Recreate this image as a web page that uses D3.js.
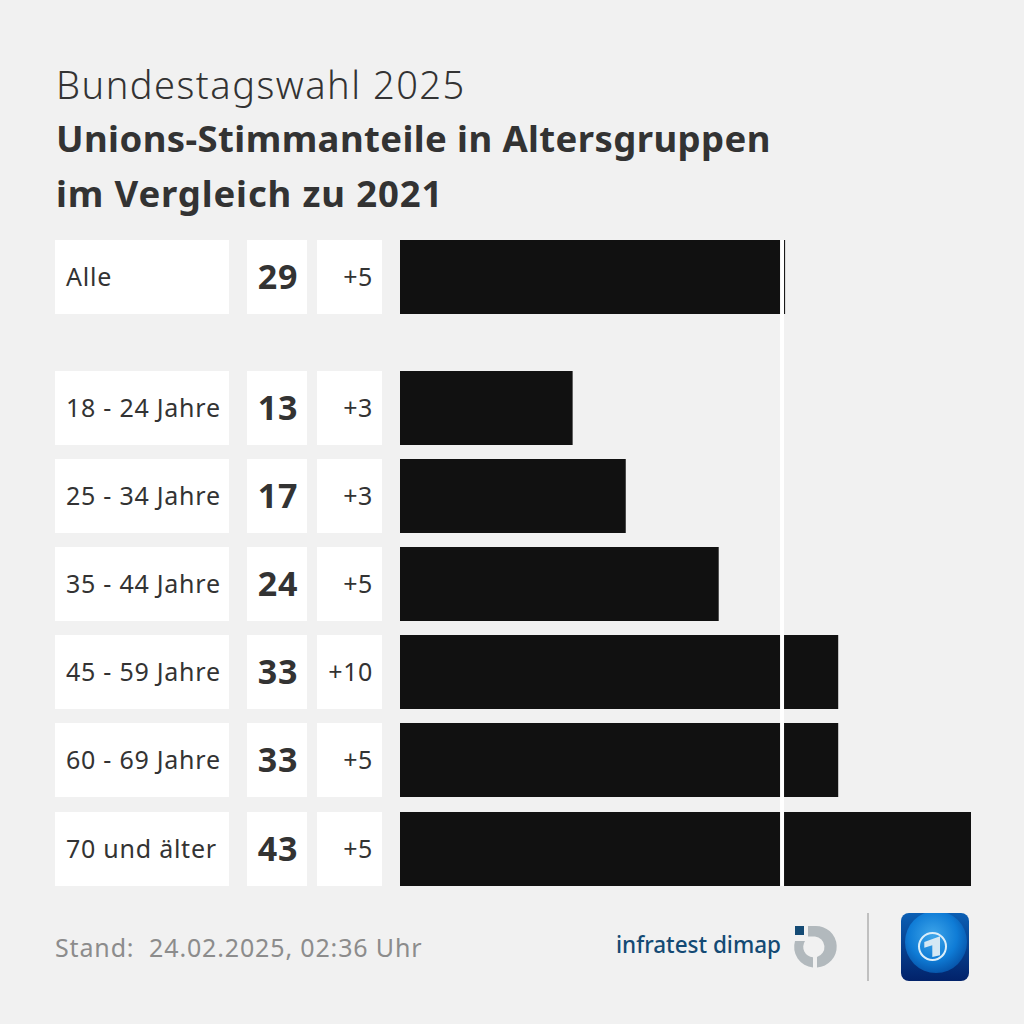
<!DOCTYPE html>
<html>
<head>
<meta charset="utf-8">
<script src="https://cdn.jsdelivr.net/npm/d3@7"></script>
<style>
  html, body { margin: 0; padding: 0; background: #f1f1f1; }
  svg { display: block; }
  text { font-family: "Noto Sans", sans-serif; fill: #333; }
</style>
</head>
<body>
<svg class="svg_parent" width="1024" height="1024"></svg>
<script>
// Values
const categories = ["Alle", "18 - 24 Jahre", "25 - 34 Jahre", "35 - 44 Jahre", "45 - 59 Jahre", "60 - 69 Jahre", "70 und älter"];
const shares = [29, 13, 17, 24, 33, 33, 43];
const changes = ["+5", "+3", "+3", "+5", "+10", "+5", "+5"];
const referenceShare = 28.77;
const titleLines = ["Bundestagswahl 2025", "Unions-Stimmanteile in Altersgruppen", "im Vergleich zu 2021"];
const standText = "Stand:  24.02.2025, 02:36 Uhr";

const svg = d3.select(".svg_parent");
svg.append("rect").attr("width", 1024).attr("height", 1024).attr("fill", "#f1f1f1");

// title
svg.selectAll(".title")
  .data(titleLines)
  .join("text")
  .attr("class", "title")
  .attr("x", 56)
  .attr("y", (d, i) => [99, 152, 207][i])
  .attr("font-size", (d, i) => i === 0 ? 38 : 36.5)
  .attr("font-weight", (d, i) => i === 0 ? 300 : 700)
  .attr("letter-spacing", (d, i) => [1.5, 0.4, 0.85][i])
  .text(d => d);

// scales
const xScale = d3.scaleLinear().domain([0, 43]).range([400, 971]);
const ageScale = d3.scaleBand()
  .domain(categories.slice(1))
  .range([371, 885.6])
  .paddingInner(14 / 88);
const rowHeight = Math.round(ageScale.bandwidth());
const rowY = d => d === categories[0] ? 240 : Math.round(ageScale(d));

const rows = svg.selectAll(".row")
  .data(categories.map((c, i) => ({ category: c, share: shares[i], change: changes[i] })))
  .join("g")
  .attr("class", "row")
  .attr("transform", d => `translate(0, ${rowY(d.category)})`);

const cellBoxes = [[55, 174], [247, 60], [317, 65]];
cellBoxes.forEach(([x, w]) => {
  rows.append("rect")
    .attr("x", x).attr("width", w)
    .attr("height", rowHeight)
    .attr("fill", "#fff");
});

rows.append("text")
  .attr("x", 66).attr("y", rowHeight / 2 + 9)
  .attr("font-size", 25)
  .attr("letter-spacing", 0.75)
  .text(d => d.category);

rows.append("text")
  .attr("x", 278).attr("y", rowHeight / 2 + 12)
  .attr("text-anchor", "middle")
  .attr("font-size", 34).attr("font-weight", 700)
  .attr("letter-spacing", 0.8)
  .text(d => d.share);

rows.append("text")
  .attr("x", 373).attr("y", rowHeight / 2 + 9)
  .attr("text-anchor", "end")
  .attr("font-size", 25)
  .attr("letter-spacing", 0.6)
  .text(d => d.change);

rows.append("rect")
  .attr("x", xScale(0))
  .attr("width", d => xScale(d.share) - xScale(0))
  .attr("height", rowHeight)
  .attr("fill", "#111");

// white reference line over the bars
svg.append("rect")
  .attr("x", xScale(referenceShare) - 2)
  .attr("y", 240)
  .attr("width", 4)
  .attr("height", 646)
  .attr("fill", "#fff");

// footer
svg.append("text")
  .attr("x", 55).attr("y", 957)
  .attr("font-size", 25)
  .attr("letter-spacing", 0.85)
  .style("fill", "#8c8c8c")
  .style("white-space", "pre")
  .text(standText);

svg.append("text")
  .attr("x", 616).attr("y", 953)
  .attr("font-size", 24)
  .attr("font-weight", 500)
  .style("fill", "#144a74")
  .attr("textLength", 165)
  .attr("lengthAdjust", "spacingAndGlyphs")
  .text("infratest dimap");

// infratest dimap mark
const logo = svg.append("g");
logo.append("path").attr("fill", "#b2b9bd")
  .attr("d", "M808 926H815A20.5 20.5 0 0 1 817 967.4V957A10.5 10.5 0 0 0 815 936.5H808Z");
logo.append("path").attr("fill", "#b2b9bd")
  .attr("d", "M795 941H805A10.5 10.5 0 0 0 813 957.3V967.4A20.5 20.5 0 0 1 795 941Z");
logo.append("rect").attr("x", 795).attr("y", 926).attr("width", 9).attr("height", 9).attr("fill", "#144a74");

svg.append("rect").attr("x", 867).attr("y", 913).attr("width", 2).attr("height", 68).attr("fill", "#c0c0c0");

// tagesschau icon
const defs = svg.append("defs");
const bg = defs.append("linearGradient").attr("id", "iconBg").attr("x1", 0).attr("y1", 0).attr("x2", 0).attr("y2", 1);
bg.append("stop").attr("offset", 0).attr("stop-color", "#0b5fb4");
bg.append("stop").attr("offset", 1).attr("stop-color", "#02226a");
const globe = defs.append("radialGradient").attr("id", "iconGlobe").attr("cx", 0.45).attr("cy", 0.4).attr("r", 0.6);
globe.append("stop").attr("offset", 0).attr("stop-color", "#3fa6ea");
globe.append("stop").attr("offset", 0.65).attr("stop-color", "#0f7cd6");
globe.append("stop").attr("offset", 1).attr("stop-color", "#0757ad");
defs.append("clipPath").attr("id", "iconClip")
  .append("rect").attr("width", 68).attr("height", 68).attr("rx", 8);

const icon = svg.append("g").attr("transform", "translate(901, 913)").attr("clip-path", "url(#iconClip)");
icon.append("rect").attr("width", 68).attr("height", 68).attr("fill", "url(#iconBg)");
icon.append("circle").attr("cx", 35).attr("cy", 29).attr("r", 31).attr("fill", "url(#iconGlobe)");
icon.append("circle").attr("cx", 31.5).attr("cy", 33.5).attr("r", 13.5)
  .attr("fill", "none").attr("stroke", "#dbeefa").attr("stroke-width", 2);
icon.append("path").attr("fill", "#d5e8f4")
  .attr("d", "M23.3 29L39 23.3V42.3L31.3 44V32.3L23.3 34.7Z");
</script>
</body>
</html>
